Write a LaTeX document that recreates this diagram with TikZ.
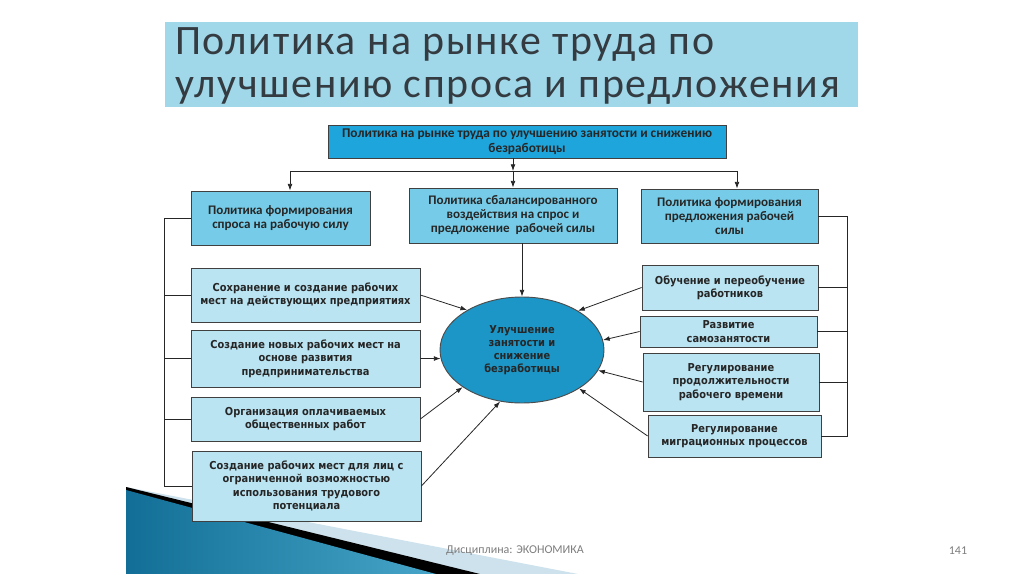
\documentclass[tikz,border=0pt]{standalone}
\usepackage{fontspec}
\setmainfont{Carlito}
\newfontfamily\titlefont{Carlito}[LetterSpace=4]
\newfontfamily\boxfont{DejaVu Sans}[FakeStretch=0.9]
\usetikzlibrary{arrows.meta,shapes.geometric}

\definecolor{bandblue}{RGB}{160,216,234}
\definecolor{topblue}{RGB}{30,166,220}
\definecolor{midblue}{RGB}{118,204,232}
\definecolor{paleblue}{RGB}{186,228,242}
\definecolor{ellblue}{RGB}{28,150,198}
\definecolor{titlegray}{RGB}{52,60,66}
\definecolor{footgray}{RGB}{125,125,125}
\definecolor{swdark}{RGB}{18,110,150}
\definecolor{swmid}{RGB}{70,165,200}
\definecolor{swlight}{RGB}{205,226,236}

\tikzset{
  topbox/.style={draw=black!75, line width=0.6pt, fill=topblue, align=center, inner sep=0pt,
    text=black!85, font=\bfseries\fontsize{10}{11}\selectfont},
  polbox/.style={draw=black!75, line width=0.6pt, fill=midblue, align=center, inner sep=0pt,
    text=black!85, font=\bfseries\fontsize{9.8}{10.5}\selectfont},
  lowbox/.style={draw=black!75, line width=0.6pt, fill=paleblue, align=center, inner sep=0pt,
    text=black!85, font=\boxfont\bfseries\fontsize{8.2}{10}\selectfont},
  goal/.style={ellipse, draw=black!70, line width=0.7pt, fill=ellblue, align=center, inner sep=0pt,
    minimum width=123pt, minimum height=79.5pt, text=black!85, font=\boxfont\bfseries\fontsize{8.2}{9.8}\selectfont},
  arr/.style={-{Latex[length=5pt,width=3.6pt]}, line width=0.6pt, black!85},
  bus/.style={line width=0.6pt, black!85},
  footer/.style={text=footgray, inner sep=0pt, font=\fontsize{9}{10}\selectfont},
}

\begin{document}
\begin{tikzpicture}[x=0.75pt,y=0.75pt,yscale=-1]
\useasboundingbox (0,0) rectangle (1024,574);

% corner decoration
\fill[swlight] (126,487) -- (578,574) -- (126,574) -- cycle;
\fill[black] (126,487) -- (480,574) -- (126,574) -- cycle;
\shade[left color=swdark, right color=swmid] (126,490) -- (436,574) -- (126,574) -- cycle;

% title band
\fill[bandblue] (165,22) rectangle (858,107);
\node[anchor=north west, align=left, inner sep=0pt, text=titlegray,
  font=\titlefont\fontsize{31.4}{32.25}\selectfont] (title) at (175,27)
  {Политика на рынке труда по\\улучшению спроса и предложения};

% top level
\node[topbox, minimum width=298.5pt, minimum height=24.75pt] (top) at (527,141.5)
  {Политика на рынке труда по улучшению занятости и снижению\\безработицы};

\node[polbox, minimum width=134.25pt, minimum height=40.5pt] (demand) at (280.5,218)
  {Политика формирования\\спроса на рабочую силу};
\node[polbox, minimum width=156pt, minimum height=41.25pt] (balance) at (513,215.5)
  {Политика сбалансированного\\воздействия на спрос и\\предложение\ \ рабочей силы};
\node[polbox, minimum width=132.75pt, minimum height=40.5pt] (supply) at (729.5,216)
  {Политика формирования\\предложения рабочей\\силы};

% left measures
\node[lowbox, minimum width=171.75pt, minimum height=40.5pt] (keep) at (305.5,295)
  {Сохранение и создание рабочих\\мест на действующих предприятиях};
\node[lowbox, minimum width=171.75pt, minimum height=42.75pt] (newjobs) at (305.5,358.5)
  {Создание новых рабочих мест на\\основе развития\\предпринимательства};
\node[lowbox, minimum width=171.75pt, minimum height=33pt] (public) at (305.5,419)
  {Организация оплачиваемых\\общественных работ};
\node[lowbox, minimum width=171.75pt, minimum height=52.5pt] (limited) at (306.5,486)
  {Создание рабочих мест для лиц с\\ограниченной возможностью\\использования трудового\\потенциала};

% right measures
\node[lowbox, minimum width=132pt, minimum height=33.75pt] (train) at (730,287.5)
  {Обучение и переобучение\\работников};
\node[lowbox, minimum width=132.75pt, minimum height=23.25pt] (self) at (728.5,331.5)
  {Развитие\\самозанятости};
\node[lowbox, minimum width=132pt, minimum height=43.5pt] (hours) at (731,382)
  {Регулирование\\продолжительности\\рабочего времени};
\node[lowbox, minimum width=129.75pt, minimum height=31.5pt] (migr) at (734.5,436)
  {Регулирование\\миграционных процессов};

% goal
\node[goal] (goal) at (522,350) {Улучшение\\занятости и\\снижение\\безработицы};

% Text Node
\node[footer] (disc) at (515,551) {Дисциплина: ЭКОНОМИКА};
\node[footer] (page) at (958,551) {141};

% branching lines
\coordinate (busL) at (290,171);
\coordinate (busM) at (513,171);
\coordinate (busR) at (737,171);
\draw[arr] (top.south -| busM) -- (busM);
\draw[bus] (busL) -- (busR);
\draw[arr] (busL) -- (busL |- demand.north);
\draw[arr] (busM) -- (busM |- balance.north);
\draw[arr] (busR) -- (busR |- supply.north);

\coordinate (lbus) at (164,218);
\draw[bus] (demand.west) -- (lbus) |- (limited.west);
\draw[bus] (lbus |- keep.west) -- (keep.west);
\draw[bus] (lbus |- newjobs.west) -- (newjobs.west);
\draw[bus] (lbus |- public.west) -- (public.west);

\coordinate (rbus) at (847,216);
\draw[bus] (supply.east) -- (rbus) |- (migr.east);
\draw[bus] (rbus |- train.east) -- (train.east);
\draw[bus] (rbus |- self.east) -- (self.east);
\draw[bus] (rbus |- hours.east) -- (hours.east);

% arrows to the goal
\draw[arr] (balance.south -| goal.north) -- (goal.north);
\draw[arr] (keep.east) -- (goal.144);
\draw[arr] (newjobs.east) -- (goal.186);
\draw[arr] (public.east) -- (goal.212);
\draw[arr] (limited.east) -- (goal.247);
\draw[arr] (train.west) -- (goal.35);
\draw[arr] (self.west) -- (goal.7);
\draw[arr] (hours.west) -- (goal.345);
\draw[arr] (migr.west) -- (goal.326);

\end{tikzpicture}
\end{document}
